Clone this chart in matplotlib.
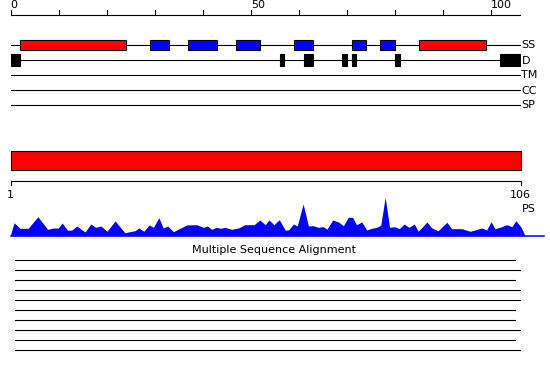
import matplotlib
matplotlib.use("Agg")
import matplotlib.pyplot as plt
from matplotlib.patches import Rectangle

W, H = 550, 380

# secondary structure (residue ranges, 0-based ruler)
helices = [(2, 24), (85, 99)]
strands = [(29, 33), (37, 43), (47, 52), (59, 63), (71, 74), (77, 80)]
# disordered segments
disorder = [(0, 2), (56, 57), (61, 63), (69, 70), (71, 72), (80, 81), (102, 106)]
tracks = ["SS", "D", "TM", "CC", "SP"]
seq_len = 106
domains = [(1, 106)]

# PS profile (position, score)
ps_pos = [0.9, 1.7, 2.9, 4.6, 6.6, 8.6, 9.8, 10.8, 11.6, 12.7, 13.6, 14.6, 16.3,
          17.5, 18.5, 19.6, 20.8, 22.5, 24.5, 26.6, 27.4, 28.4, 29.5, 30.4, 31.5,
          32.4, 33.3, 34.5, 37.2, 39.3, 40.7, 41.5, 42.4, 43.3, 44.2, 45.1, 46.5,
          47.9, 49.2, 51.1, 52.3, 53.4, 54.2, 55.2, 56.3, 57.5, 58.2, 59.2, 60.0,
          61.2, 62.3, 63.3, 64.3, 65.4, 66.1, 67.3, 68.5, 69.5, 70.5, 71.4, 72.2,
          73.3, 74.3, 75.3, 76.4, 77.2, 78.1, 79.0, 80.1, 81.0, 82.0, 83.0, 84.1,
          84.9, 86.7, 87.7, 89.0, 90.8, 91.8, 93.9, 95.6, 98.0, 99.0, 99.9, 100.7,
          102.1, 103.1, 104.2, 105.0, 106.1, 106.9]
ps_val = [0, 13, 7.4, 7.4, 19, 6.4, 7.7, 7.7, 12.7, 5.4, 5.7, 9.7, 3.7,
          11.7, 8.4, 9.7, 4.4, 14.7, 3, 5, 7.7, 4.4, 10.7, 8.4, 18,
          7.7, 9.7, 4, 10.7, 11, 8.4, 9.7, 6.4, 8.4, 7.4, 8.4, 6.4,
          7.7, 11, 11, 15.7, 11, 15.7, 11, 16, 5.7, 5.7, 11.7, 9.7,
          31.7, 9.7, 10, 8.4, 9, 6.4, 15.7, 13.7, 10, 18.4, 18.4, 11,
          13.7, 5.7, 7.4, 8.4, 10.7, 38.4, 8.4, 9, 7, 11.7, 8.4, 11.7,
          4.4, 13.7, 7.7, 5, 13.4, 7, 7, 4.4, 7.7, 5.7, 14, 7,
          9, 11, 9, 15, 8.4, 0]

# multiple sequence alignment (start, end) per sequence
msa_start = [1, 1, 1, 1, 1, 1, 1, 1, 1, 1]
msa_end = [105, 106, 105, 106, 106, 105, 105, 106, 105, 106]


def px_axes(fig, x0, y0, x1, y1):
    ax = fig.add_axes([x0 / W, 1 - y1 / H, (x1 - x0) / W, (y1 - y0) / H])
    ax.set_axis_off()
    return ax


plt.rcParams["font.family"] = "DejaVu Sans"
fig = plt.figure(figsize=(5.5, 3.8), dpi=100)
fs = 8
lw = 0.8

# ---- top: ruler + feature tracks
ax = px_axes(fig, 10.7, 0, 520.7, 120)
ax.set_xlim(0, 106.25)
ax.set_ylim(120, 0)
ax.plot([0, 106.25], [15, 15], color="black", lw=lw)
for t in range(0, 101, 10):
    ax.plot([t, t], [15, 10], color="black", lw=lw)
for t in (0, 50, 100):
    ax.text(t, 8.5, str(t), fontsize=fs, ha="left", va="baseline")

rows = {name: 45 + 15 * i for i, name in enumerate(tracks)}
for name, y in rows.items():
    ax.plot([0, 106.25], [y, y], color="black", lw=lw, zorder=1)
    ax.text(106.4, y + 0.5, name, fontsize=fs, ha="left", va="center", clip_on=False)

for s, e in helices:
    ax.add_patch(Rectangle((s, rows["SS"] - 4.8), e - s, 9.6, facecolor="#ff0000",
                           edgecolor="black", lw=lw, zorder=2))
for s, e in strands:
    ax.add_patch(Rectangle((s, rows["SS"] - 4.8), e - s, 9.6, facecolor="#0000ff",
                           edgecolor="black", lw=lw, zorder=2))
for s, e in disorder:
    ax.add_patch(Rectangle((s, rows["D"] - 5.6), e - s, 11.2, facecolor="black",
                           edgecolor="black", lw=lw, zorder=2))

# ---- middle: domain bar + 1-based ruler
ax2 = px_axes(fig, 10.7, 140, 520.7, 220)
ax2.set_xlim(1, seq_len)
ax2.set_ylim(220, 140)
for s, e in domains:
    ax2.add_patch(Rectangle((s, 150.7), e - s, 19.6, facecolor="#ff0000",
                            edgecolor="black", lw=lw, clip_on=False))
ax2.plot([1, seq_len], [180.5, 180.5], color="black", lw=lw)
for t in (1, seq_len):
    ax2.plot([t, t], [180.5, 185], color="black", lw=lw, clip_on=False)
    ax2.text(t, 190.5, str(t), fontsize=fs, ha="center", va="top", clip_on=False)
ax2.text(106.2, 204, "PS", fontsize=fs, ha="left", va="top", clip_on=False)

# ---- PS profile
ax3 = px_axes(fig, 10.7, 190, 544, 235.7)
ax3.set_xlim(1, 1 + (544 - 10.7) / 4.857)
ax3.set_ylim(0, 45.7)
ax3.fill_between(ps_pos, ps_val, 0, color="#0000ff", lw=0)
ax3.axhline(0, color="#0000ff", lw=1.1, clip_on=False)

# ---- multiple sequence alignment
ax4 = px_axes(fig, 10.7, 240, 520.7, 360)
ax4.set_xlim(0, 106.25)
ax4.set_ylim(360, 240)
for i, (s, e) in enumerate(zip(msa_start, msa_end)):
    y = 260.3 + 10 * i
    ax4.plot([s - 0.2, e], [y, y], color="black", lw=lw)
fig.text(274 / W, 1 - 250 / H, "Multiple Sequence Alignment", fontsize=fs,
         ha="center", va="center")

fig.savefig("out.png", dpi=100)
